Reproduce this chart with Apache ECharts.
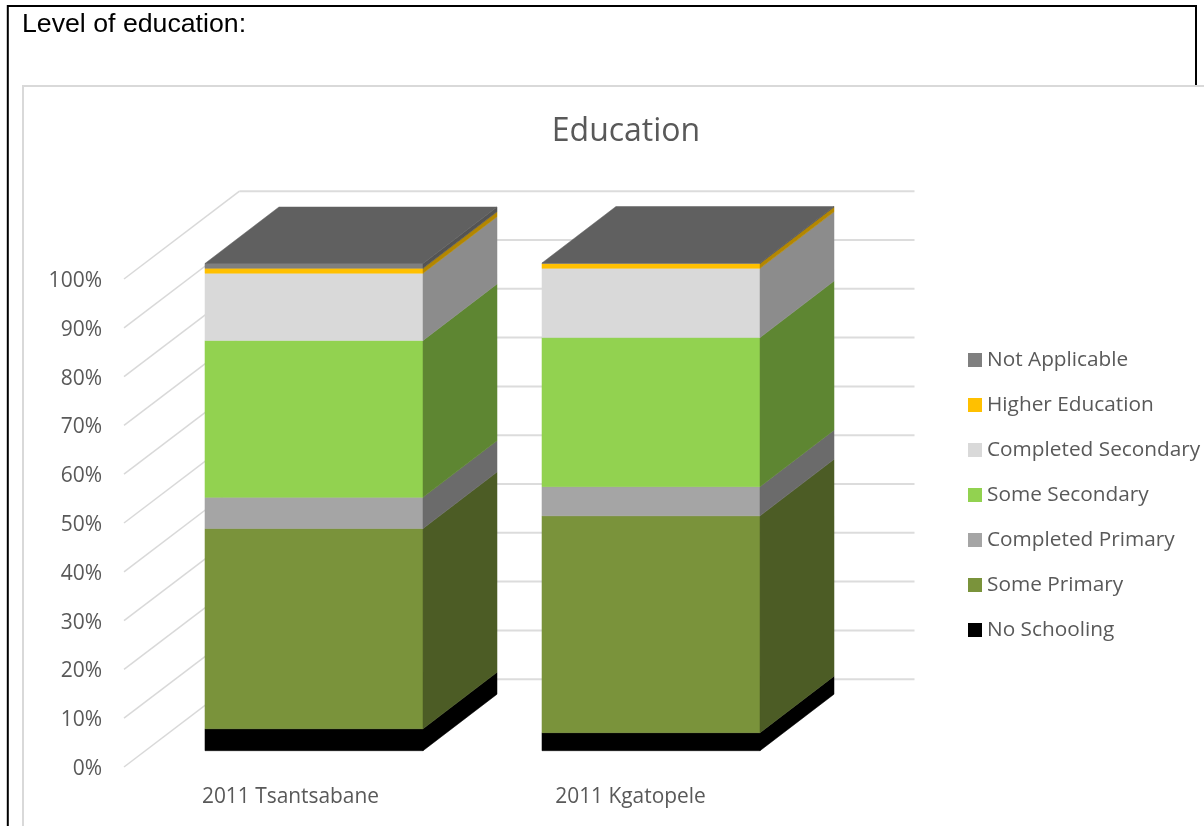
<!DOCTYPE html>
<html>
<head>
<meta charset="utf-8">
<style>html,body{margin:0;padding:0;background:#fff}#chart{width:1204px;height:826px}</style>
<script src="https://cdn.jsdelivr.net/npm/echarts@6/dist/echarts.min.js"></script>
</head>
<body>
<div id="chart"></div>
<script>
// Share of residents by highest level of education, per municipality (percent)
const categories = ['2011 Tsantsabane', '2011 Kgatopele'];
const noSchooling = [4.5, 3.7];
const somePrimary = [41.1, 44.5];
const completedPrimary = [6.4, 6.0];
const someSecondary = [32.2, 30.6];
const completedSecondary = [13.8, 14.2];
const higherEducation = [1.0, 1.0];
const notApplicable = [1.0, 0.1];
const yTicks = [0, 10, 20, 30, 40, 50, 60, 70, 80, 90, 100];

// Stack order, bottom to top: front face colour and darker side face colour
const layers = [
  { name: 'No Schooling', values: noSchooling, front: '#000000', side: '#000000' },
  { name: 'Some Primary', values: somePrimary, front: '#7a933b', side: '#4c5c25' },
  { name: 'Completed Primary', values: completedPrimary, front: '#a5a5a5', side: '#6b6b6b' },
  { name: 'Some Secondary', values: someSecondary, front: '#92d250', side: '#5e8632' },
  { name: 'Completed Secondary', values: completedSecondary, front: '#d9d9d9', side: '#8c8c8c' },
  { name: 'Higher Education', values: higherEducation, front: '#ffc000', side: '#b38600' },
  { name: 'Not Applicable', values: notApplicable, front: '#7f7f7f', side: '#545454', top: '#606060' }
];

// Projection of the 3D box: depth of the columns and of the chart walls, in pixels
const barDepth = { x: 74, y: 56.5 };
const wallDepth = { x: 115.5, y: 87.8 };
const wallInset = 3.5;
const wallWidth = 675;
const labelDrop = 2; // tick labels sit slightly below the wall lines they name
const barWidthRatio = 0.647;
const gridColor = '#dcdcdc';
const textColor = '#595959';

function renderWall(params, api) {
  const start = params.coordSys.x + wallInset;
  const y = api.coord([0, api.value(1)])[1] - labelDrop;
  const knee = [start + wallDepth.x, y - wallDepth.y];
  return {
    type: 'group',
    children: [
      { type: 'line', shape: { x1: start, y1: y, x2: knee[0], y2: knee[1] },
        style: { stroke: '#d9d9d9', lineWidth: 1.5 } },
      { type: 'line', shape: { x1: knee[0], y1: knee[1], x2: knee[0] + wallWidth, y2: knee[1] },
        style: { stroke: gridColor, lineWidth: 2 } }
    ]
  };
}

function makeColumnRenderer(layer, isTop) {
  return function (params, api) {
    const base = api.coord([api.value(0), api.value(1)]);
    const head = api.coord([api.value(0), api.value(2)]);
    const width = api.size([1, 0])[0] * barWidthRatio;
    const x0 = base[0] - width / 2;
    const x1 = x0 + width;
    const yb = base[1];
    const yt = head[1];
    const face = (pts, fill) => ({
      type: 'polygon', shape: { points: pts },
      style: { fill: fill, stroke: fill, lineWidth: 0.5 }
    });
    const children = [
      face([[x0, yt], [x1, yt], [x1, yb], [x0, yb]], layer.front),
      face([[x1, yt], [x1 + barDepth.x, yt - barDepth.y],
            [x1 + barDepth.x, yb - barDepth.y], [x1, yb]], layer.side)
    ];
    if (isTop) {
      children.push(face([[x0, yt], [x0 + barDepth.x, yt - barDepth.y],
        [x1 + barDepth.x, yt - barDepth.y], [x1, yt]], layer.top));
    }
    return { type: 'group', children: children };
  };
}

// Cumulative base and head of each segment for every category
const running = categories.map(() => 0);
const columnSeries = layers.map((layer, i) => ({
  name: layer.name,
  type: 'custom',
  xAxisIndex: 1,
  yAxisIndex: 1,
  z: 5 + i,
  itemStyle: { color: layer.front },
  encode: { x: 0, y: [1, 2] },
  renderItem: makeColumnRenderer(layer, i === layers.length - 1),
  data: categories.map((c, k) => {
    const base = running[k];
    running[k] += layer.values[k];
    return [k, base, running[k]];
  })
}));

const chart = echarts.init(document.getElementById('chart'), null, { renderer: 'canvas' });
chart.setOption({
  animation: false,
  backgroundColor: '#ffffff',
  title: {
    text: 'Education',
    left: 621,
    top: 111,
    textAlign: 'center',
    textStyle: { color: textColor, fontFamily: 'Open Sans', fontSize: 32, fontWeight: 'normal' }
  },
  legend: {
    orient: 'vertical',
    left: 963,
    top: 344.5,
    icon: 'rect',
    itemWidth: 14,
    itemHeight: 14,
    itemGap: 24,
    data: layers.map(l => l.name).reverse(),
    textStyle: { color: textColor, fontFamily: 'Open Sans', fontSize: 20.8 },
    selectedMode: false
  },
  grid: [
    { left: 120.5, width: 680, top: 281, height: 488 },
    { left: 145.5, width: 674, top: 263.5, height: 487.2 }
  ],
  xAxis: [
    { gridIndex: 0, type: 'category', data: categories,
      axisLine: { show: false }, axisTick: { show: false },
      axisLabel: { color: textColor, fontFamily: 'Open Sans', fontSize: 20.9, margin: 18, interval: 0 } },
    { gridIndex: 1, type: 'category', data: categories, show: false }
  ],
  yAxis: [
    { gridIndex: 0, type: 'value', min: 0, max: 100, interval: 10,
      axisLine: { show: false }, axisTick: { show: false }, splitLine: { show: false },
      axisLabel: { color: textColor, fontFamily: 'Open Sans', fontSize: 21, margin: 18.5,
                   formatter: '{value}%' } },
    { gridIndex: 1, type: 'value', min: 0, max: 100, interval: 10, show: false }
  ],
  series: [
    {
      name: 'walls', type: 'custom', xAxisIndex: 0, yAxisIndex: 0, z: 1, silent: true,
      renderItem: renderWall,
      encode: { y: 1 },
      data: yTicks.map(t => [0, t])
    }
  ].concat(columnSeries),
  graphic: [
    // Surrounding document frame and the chart's own border
    { type: 'polyline', z: 0, shape: { points: [[7.8, 826], [7.8, 6], [1196, 6], [1196, 85]] },
      style: { fill: 'none', stroke: '#000000', lineWidth: 2 } },
    { type: 'polyline', z: 0, shape: { points: [[23, 826], [23, 86], [1204, 86]] },
      style: { fill: 'none', stroke: '#d9d9d9', lineWidth: 2 } },
    { type: 'text', z: 0, left: 22, top: 11,
      style: { text: 'Level of education:', fill: '#000000', fontFamily: 'Liberation Sans', fontSize: 26.7 } }
  ]
});
</script>
</body>
</html>
